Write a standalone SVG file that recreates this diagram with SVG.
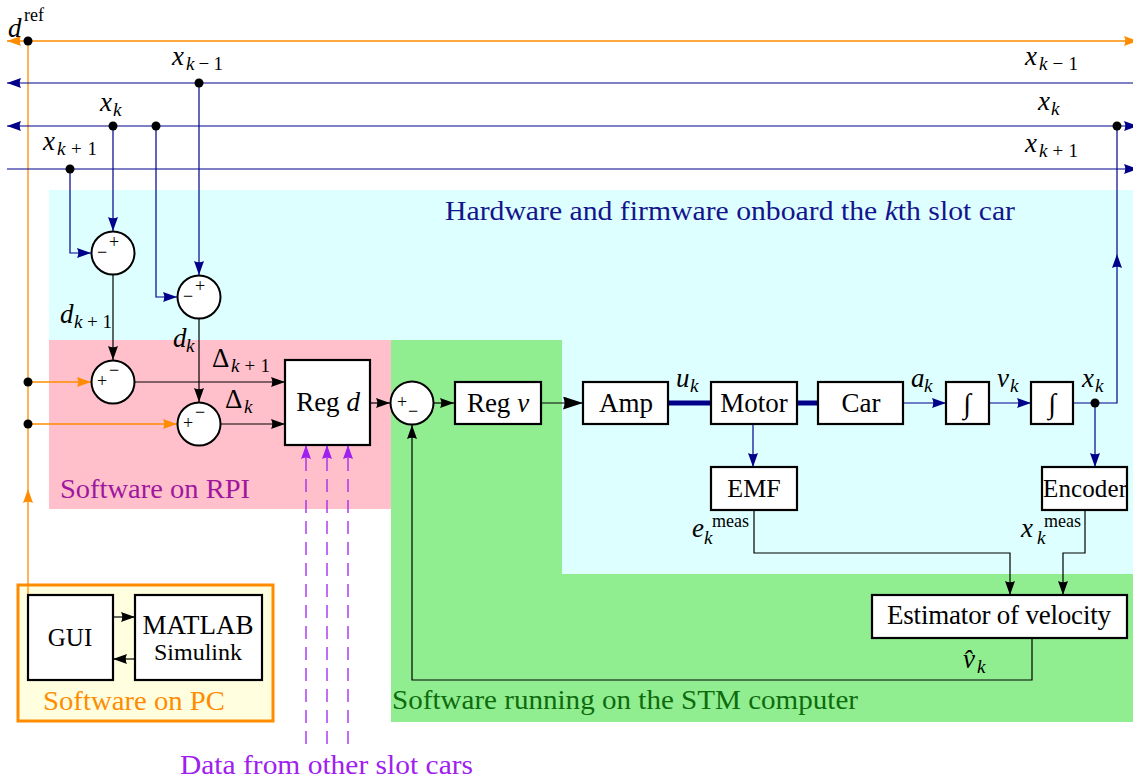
<svg xmlns="http://www.w3.org/2000/svg" width="1133" height="781" viewBox="0 0 1133 781" font-family="'Liberation Serif', 'Times New Roman', Times, 'DejaVu Serif', serif">
<style>
.t{font-size:27px;fill:#000}
.m{font-style:italic;font-size:27px;fill:#000}
.ms{font-style:italic;font-size:19px;fill:#000}
.r{font-style:normal}
.sg{font-size:18px;fill:#000;text-anchor:middle}
.box{fill:#fff;stroke:#000;stroke-width:2.2}
.sum{fill:#fff;stroke:#000;stroke-width:2}
.c{text-anchor:middle}
.lb{fill:none;stroke:#000;stroke-width:1.2}
.ln{fill:none;stroke:#00008b;stroke-width:1.2}
.lo{fill:none;stroke:#ff8c00;stroke-width:1.3}
.lp{fill:none;stroke:#a020f0;stroke-width:1.3;stroke-dasharray:13 8}
</style>
<defs>
<marker id="ab" viewBox="0 0 14 10" refX="14" refY="5" markerWidth="14" markerHeight="10" markerUnits="userSpaceOnUse" orient="auto-start-reverse"><path d="M0,0 L14,5 L0,10 Q2.5,5 0,0 z" fill="#000"/></marker>
<marker id="abig" viewBox="0 0 20 13" refX="20" refY="6.5" markerWidth="20" markerHeight="13" markerUnits="userSpaceOnUse" orient="auto-start-reverse"><path d="M0,0 L20,6.5 L0,13 Q3,6.5 0,0 z" fill="#000"/></marker>
<marker id="an" viewBox="0 0 14 10" refX="14" refY="5" markerWidth="14" markerHeight="10" markerUnits="userSpaceOnUse" orient="auto-start-reverse"><path d="M0,0 L14,5 L0,10 Q2.5,5 0,0 z" fill="#00008b"/></marker>
<marker id="ao" viewBox="0 0 14 10" refX="14" refY="5" markerWidth="14" markerHeight="10" markerUnits="userSpaceOnUse" orient="auto-start-reverse"><path d="M0,0 L14,5 L0,10 Q2.5,5 0,0 z" fill="#ff8c00"/></marker>
<marker id="ap" viewBox="0 0 14 10" refX="14" refY="5" markerWidth="14" markerHeight="10" markerUnits="userSpaceOnUse" orient="auto-start-reverse"><path d="M0,0 L14,5 L0,10 Q2.5,5 0,0 z" fill="#a020f0"/></marker>
</defs>
<rect width="1133" height="781" fill="#fff"/>
<g id="regions">
<path d="M49,190 H1133 V574 H391 V509 H49 Z" fill="#ddffff"/>
<rect x="49" y="340" width="342" height="169" fill="#ffc0cb"/>
<path d="M391,340 H562 V574 H1133 V722 H391 Z" fill="#90ee90"/>
<rect x="18" y="585" width="255" height="136" fill="#ffffe0" stroke="#ff8c00" stroke-width="3"/>
<text class="t" x="445" y="220" textLength="570" lengthAdjust="spacingAndGlyphs" style="fill:#14148c">Hardware and firmware onboard the <tspan font-style="italic">k</tspan>th slot car</text>
<text class="t" x="60" y="498" textLength="190" lengthAdjust="spacingAndGlyphs" style="fill:#a0169f">Software on RPI</text>
<text class="t" x="392" y="709" textLength="466" lengthAdjust="spacingAndGlyphs" style="fill:#0e6b0e">Software running on the STM computer</text>
<text class="t" x="43" y="710" textLength="182" lengthAdjust="spacingAndGlyphs" style="fill:#ff8c00">Software on PC</text>
<text class="t" x="180" y="774" textLength="293" lengthAdjust="spacingAndGlyphs" style="fill:#a020f0">Data from other slot cars</text>
</g>
<g id="connectors">
<path class="lo" d="M7,41 H1138" marker-start="url(#ao)" marker-end="url(#ao)"/>
<path class="lo" d="M28,595 V489" marker-end="url(#ao)"/>
<path class="lo" d="M28,489 V41"/>
<path class="lo" d="M28,382 H91" marker-end="url(#ao)"/>
<path class="lo" d="M28,424 H177" marker-end="url(#ao)"/>
<path class="ln" d="M7,83 H1133" marker-start="url(#an)"/>
<path class="ln" d="M7,126 H1138" marker-start="url(#an)" marker-end="url(#an)"/>
<path class="ln" d="M7,169 H1138" marker-end="url(#an)"/>
<path class="ln" d="M113,126 V231" marker-end="url(#an)"/>
<path class="ln" d="M70,169 V253 H91" marker-end="url(#an)"/>
<path class="ln" d="M199,83 V275" marker-end="url(#an)"/>
<path class="ln" d="M156,126 V297 H177" marker-end="url(#an)"/>
<path class="lb" d="M113,275 V360" marker-end="url(#ab)"/>
<path class="lb" d="M199,319 V402" marker-end="url(#ab)"/>
<path class="lb" d="M135,382 H285" marker-end="url(#ab)"/>
<path class="lb" d="M221,424 H285" marker-end="url(#ab)"/>
<path class="lb" d="M370,403 H390" marker-end="url(#ab)"/>
<path class="lb" d="M434,403 H454" marker-end="url(#ab)"/>
<path class="lb" d="M541,403 H583" marker-end="url(#abig)"/>
<path fill="none" stroke="#00008b" stroke-width="5" d="M668,403 H711 M797,403 H818"/>
<path class="ln" d="M903,403 H946" marker-end="url(#an)"/>
<path class="ln" d="M989,403 H1031" marker-end="url(#an)"/>
<path class="ln" d="M1073,403 H1117 V254" marker-end="url(#an)"/>
<path class="ln" d="M1117,254 V126"/>
<path class="ln" d="M1095,403 V467" marker-end="url(#an)"/>
<path class="ln" d="M753,424 V467" marker-end="url(#an)"/>
<path class="lb" d="M754,510 V553 H1010 V595" marker-end="url(#ab)"/>
<path class="lb" d="M1085,510 V553 H1063 V595" marker-end="url(#ab)"/>
<path class="lb" d="M1032,638 V680 H412 V425" marker-end="url(#ab)"/>
<path class="lb" d="M113,617 H135" marker-end="url(#ab)"/>
<path class="lb" d="M135,659 H113" marker-end="url(#ab)"/>
<path class="lp" d="M306,744 V445" marker-end="url(#ap)"/>
<path class="lp" d="M327,744 V445" marker-end="url(#ap)"/>
<path class="lp" d="M348,744 V445" marker-end="url(#ap)"/>
<g fill="#000">
<circle cx="28" cy="41" r="4.5"/>
<circle cx="28" cy="382" r="4.5"/>
<circle cx="28" cy="424" r="4.5"/>
<circle cx="199" cy="83" r="4.5"/>
<circle cx="113" cy="126" r="4.5"/>
<circle cx="156" cy="126" r="4.5"/>
<circle cx="1117" cy="126" r="4.5"/>
<circle cx="70" cy="169" r="4.5"/>
<circle cx="1095" cy="403" r="4.5"/>
</g>
<g id="labels">
<text class="m" x="8" y="37">d</text><text class="t" x="24" y="21" style="font-size:18px">ref</text>
<text class="m" x="172" y="65">x</text><text class="ms" x="186" y="70" textLength="37">k<tspan class="r">−1</tspan></text>
<text class="m" x="100" y="111">x</text><text class="ms" x="113" y="116">k</text>
<text class="m" x="43" y="150">x</text><text class="ms" x="57" y="155" textLength="40">k<tspan class="r">+1</tspan></text>
<text class="m" x="1025" y="65">x</text><text class="ms" x="1039" y="70" textLength="39">k<tspan class="r">−1</tspan></text>
<text class="m" x="1038" y="110">x</text><text class="ms" x="1051" y="115">k</text>
<text class="m" x="1025" y="152">x</text><text class="ms" x="1039" y="157" textLength="39">k<tspan class="r">+1</tspan></text>
<text class="m" x="60" y="323">d</text><text class="ms" x="74" y="328" textLength="38">k<tspan class="r">+1</tspan></text>
<text class="m" x="173" y="347">d</text><text class="ms" x="186" y="352">k</text>
<text class="t" x="212" y="367">Δ</text><text class="ms" x="231" y="372" textLength="39">k<tspan class="r">+1</tspan></text>
<text class="t" x="225" y="408">Δ</text><text class="ms" x="244" y="413">k</text>
<text class="m" x="676" y="387">u</text><text class="ms" x="690" y="392">k</text>
<text class="m" x="911" y="387">a</text><text class="ms" x="924" y="392">k</text>
<text class="m" x="997" y="387">v</text><text class="ms" x="1010" y="392">k</text>
<text class="m" x="1082" y="387">x</text><text class="ms" x="1095" y="392">k</text>
<text class="m" x="692" y="537">e</text><text class="ms" x="704" y="544">k</text><text class="t" x="712" y="527" style="font-size:18px">meas</text>
<text class="m" x="1021" y="537">x</text><text class="ms" x="1037" y="544">k</text><text class="t" x="1044" y="527" style="font-size:18px">meas</text>
<text class="m" x="963" y="668">v&#x302;</text><text class="ms" x="977" y="673">k</text>
</g>
</g>
<g id="sum1"><circle class="sum" cx="113" cy="253" r="21.5"/><text class="sg" x="114" y="248">+</text><text class="sg" x="102" y="258">−</text></g>
<g id="sum2"><circle class="sum" cx="199" cy="297" r="21.5"/><text class="sg" x="200" y="292">+</text><text class="sg" x="188" y="302">−</text></g>
<g id="sum3"><circle class="sum" cx="113" cy="382" r="21.5"/><text class="sg" x="114" y="376">−</text><text class="sg" x="102" y="387">+</text></g>
<g id="sum4"><circle class="sum" cx="199" cy="424" r="21.5"/><text class="sg" x="200" y="418">−</text><text class="sg" x="188" y="429">+</text></g>
<g id="sum5"><circle class="sum" cx="412" cy="403" r="21.5"/><text class="sg" x="402" y="408">+</text><text class="sg" x="413" y="417">−</text></g>
<g id="regd"><rect class="box" x="285" y="360" width="85" height="85"/><text class="t c" x="328" y="411">Reg <tspan font-style="italic">d</tspan></text></g>
<g id="regv"><rect class="box" x="455" y="382" width="86" height="42"/><text class="t c" x="498" y="412">Reg <tspan font-style="italic">v</tspan></text></g>
<g id="amp"><rect class="box" x="583" y="382" width="85" height="42"/><text class="t c" x="626" y="412">Amp</text></g>
<g id="motor"><rect class="box" x="711" y="382" width="86" height="42"/><text class="t c" x="754" y="412">Motor</text></g>
<g id="car"><rect class="box" x="818" y="382" width="85" height="42"/><text class="t c" x="861" y="412">Car</text></g>
<g id="int1"><rect class="box" x="946" y="382" width="43" height="42"/><text class="t c" x="967" y="413" style="font-size:28px">∫</text></g>
<g id="int2"><rect class="box" x="1031" y="382" width="42" height="42"/><text class="t c" x="1052" y="413" style="font-size:28px">∫</text></g>
<g id="emf"><rect class="box" x="711" y="467" width="86" height="43"/><text class="t c" x="754" y="497" style="font-size:26px">EMF</text></g>
<g id="encoder"><rect class="box" x="1042" y="467" width="85" height="43"/><text class="t c" x="1085" y="497" style="font-size:25px" textLength="84">Encoder</text></g>
<g id="estimator"><rect class="box" x="872" y="595" width="255" height="43"/><text class="t c" x="999" y="624" textLength="224">Estimator of velocity</text></g>
<g id="gui"><rect class="box" x="28" y="595" width="85" height="85"/><text class="t c" x="70" y="646" style="font-size:25px">GUI</text></g>
<g id="matlab"><rect class="box" x="135" y="595" width="127" height="85"/><text class="t c" x="198" y="634">MATLAB</text><text class="t c" x="198" y="660" style="font-size:24px">Simulink</text></g>
</svg>
